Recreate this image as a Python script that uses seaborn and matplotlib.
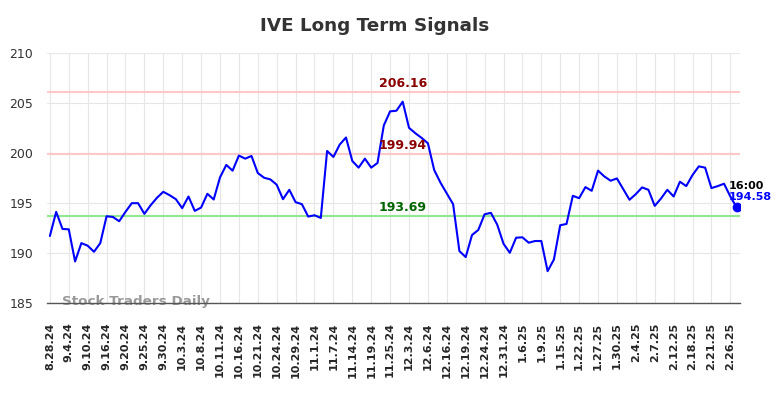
import matplotlib
matplotlib.use("Agg")
import matplotlib.pyplot as plt
import seaborn as sns
import pandas as pd
import numpy as np


ticker = "IVE"

prices = [
    191.71, 194.13, 192.42, 192.38, 189.16, 191.00, 190.74, 190.13, 191.00, 193.69,
    193.62, 193.19, 194.13, 195.00, 195.00, 193.93, 194.80, 195.54, 196.14, 195.80,
    195.40, 194.50, 195.67, 194.23, 194.56, 195.94, 195.37, 197.58, 198.83, 198.26,
    199.77, 199.46, 199.73, 198.02, 197.55, 197.38, 196.85, 195.40, 196.34, 195.10,
    194.90, 193.66, 193.79, 193.52, 200.23, 199.63, 200.87, 201.58, 199.23, 198.56,
    199.46, 198.56, 199.03, 202.79, 204.20, 204.26, 205.17, 202.55, 202.01, 201.54,
    201.00, 198.32, 197.05, 195.97, 194.90, 190.20, 189.60, 191.81, 192.32, 193.89,
    194.03, 192.85, 190.94, 190.03, 191.54, 191.58, 191.04, 191.21, 191.21, 188.19,
    189.36, 192.79, 192.92, 195.74, 195.50, 196.61, 196.24, 198.26, 197.68, 197.25,
    197.48, 196.41, 195.34, 195.91, 196.58, 196.34, 194.73, 195.47, 196.34, 195.67,
    197.15, 196.71, 197.82, 198.69, 198.56, 196.51, 196.71, 196.95, 195.67, 194.58,
]

tick_labels = [
    "8.28.24", "9.4.24", "9.10.24", "9.16.24", "9.20.24", "9.25.24", "9.30.24",
    "10.3.24", "10.8.24", "10.11.24", "10.16.24", "10.21.24", "10.24.24", "10.29.24",
    "11.1.24", "11.7.24", "11.14.24", "11.19.24", "11.25.24", "12.3.24", "12.6.24",
    "12.16.24", "12.19.24", "12.24.24", "12.31.24", "1.6.25", "1.9.25", "1.15.25",
    "1.22.25", "1.27.25", "1.30.25", "2.4.25", "2.7.25", "2.12.25", "2.18.25",
    "2.21.25", "2.26.25",
]

resistance_levels = [206.16, 199.94]
support_levels = [193.69]
last_time = "16:00"


def main():

    sns.set_style("whitegrid", {"grid.color": "#e6e6e6"})

    df = pd.DataFrame({"idx": np.arange(len(prices)), "price": prices})

    fig = plt.figure(figsize=(7.84, 3.98), dpi=100)
    ax = fig.add_axes([0.06, 0.2387, 0.884, 0.627])

    for lvl in resistance_levels:
        ax.axhline(lvl, color="#ffc8c8", lw=1.5, zorder=1)
    for lvl in support_levels:
        ax.axhline(lvl, color="#90e890", lw=1.5, zorder=1)

    sns.lineplot(data=df, x="idx", y="price", color="#0000ff", lw=1.5, ax=ax, zorder=3)

    last_i = len(prices) - 1
    ax.scatter([last_i], [prices[-1]], s=36, color="#0000ff", zorder=4)

    # level labels sit just above their lines
    label_x = 56
    for lvl in resistance_levels:
        ax.text(label_x, lvl + 0.2, "{:.2f}".format(lvl), color="#8b0000",
                fontsize=9, fontweight="bold", ha="center", va="bottom")
    for lvl in support_levels:
        ax.text(label_x, lvl + 0.2, "{:.2f}".format(lvl), color="#006400",
                fontsize=9, fontweight="bold", ha="center", va="bottom")

    ax.text(last_i - 1.2, prices[-1] + 1.65, last_time, color="black",
            fontsize=8, fontweight="bold", ha="left", va="bottom")
    ax.text(last_i - 1.2, prices[-1] + 0.55, "{:.2f}".format(prices[-1]), color="#0000ff",
            fontsize=8, fontweight="bold", ha="left", va="bottom")

    ax.text(2, 184.45, "Stock Traders Daily", color="#999999", fontsize=9.7,
            fontweight="bold", ha="left", va="bottom", zorder=2)

    ax.set_ylim(185, 210)
    ax.set_yticks([185, 190, 195, 200, 205, 210])
    ax.set_xlim(-0.45, last_i + 0.55)
    ax.set_xticks(np.arange(0, len(prices), 3))
    ax.set_xticklabels(tick_labels, rotation=90, fontsize=8, fontweight="bold")
    ax.tick_params(axis="y", labelsize=9, colors="#333333", length=0, pad=10)
    ax.tick_params(axis="x", length=0, pad=14)
    ax.set_xlabel("")
    ax.set_ylabel("")

    for side in ["left", "right", "top"]:
        ax.spines[side].set_visible(False)
    ax.spines["bottom"].set_color("#555555")
    ax.spines["bottom"].set_linewidth(1)

    fig.text(375 / 784, 1 - 26 / 398, "{} Long Term Signals".format(ticker), fontsize=13.2,
             fontweight="bold", color="#333333", ha="center", va="center")

    plt.savefig("out.png", dpi=100)


if __name__ == "__main__":
    main()
